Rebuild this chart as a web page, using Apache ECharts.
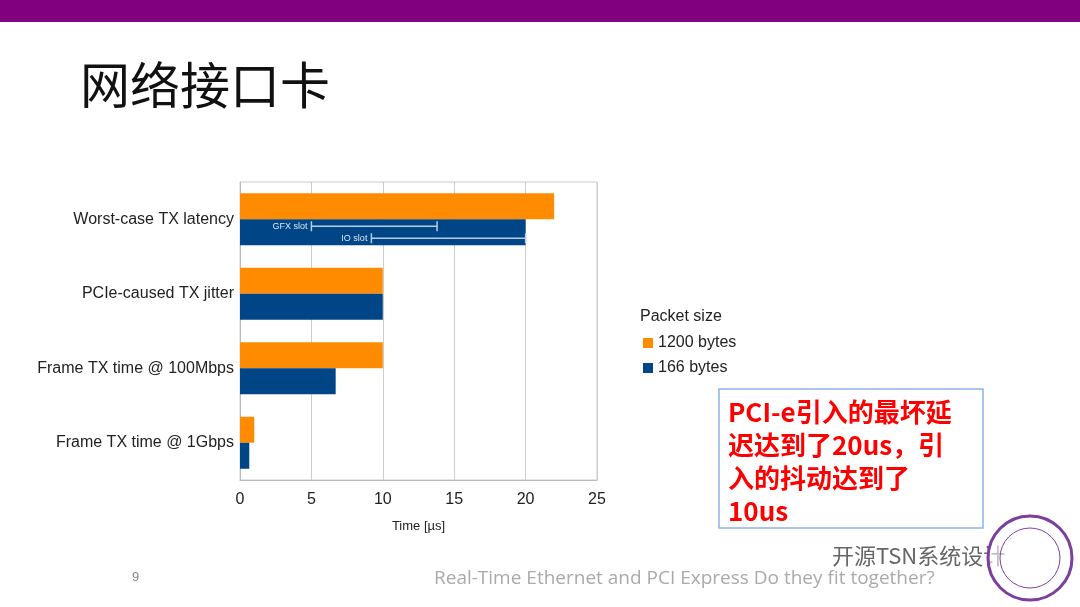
<!DOCTYPE html>
<html><head><meta charset="utf-8">
<script src="https://cdn.jsdelivr.net/npm/echarts@6/dist/echarts.min.js"></script>
<style>html,body{margin:0;padding:0;background:#fff}#c{width:1080px;height:607px}</style>
</head><body><div id="c"></div>
<script>
// 数据
const categories = ['Worst-case TX latency', 'PCIe-caused TX jitter', 'Frame TX time @ 100Mbps', 'Frame TX time @ 1Gbps'];
const bytes1200 = [22, 10, 10, 1.0];
const bytes166 = [20, 10, 6.7, 0.65];
const xTicks = [0, 5, 10, 15, 20, 25];
// 误差区间：[起点, 终点, 标签]
const slotRanges = [[5, 13.8, 'GFX slot'], [9.2, 20, 'IO slot']];

const chart = echarts.init(document.getElementById('c'));
const font = 'Liberation Sans, Arial, sans-serif';

chart.setOption({
    animation: false,
    grid: { left: 240, right: 483, top: 182, bottom: 127, show: true, borderColor: '#ccc', borderWidth: 1 },
    legend: {
        orient: 'vertical', left: 638, top: 330, itemGap: 9,
        itemWidth: 10, itemHeight: 10, icon: 'rect',
        textStyle: { fontFamily: font, fontSize: 16, color: '#222' },
        data: ['1200 bytes', '166 bytes']
    },
    xAxis: {
        type: 'value', min: 0, max: 25, interval: xTicks[1] - xTicks[0],
        name: 'Time [µs]', nameLocation: 'middle', nameGap: 40,
        nameTextStyle: { fontFamily: font, fontSize: 13, color: '#222' },
        axisLabel: { fontFamily: font, fontSize: 16, color: '#222', margin: 12 },
        axisLine: { show: true, lineStyle: { color: '#bbb' } },
        axisTick: { show: false },
        splitLine: { lineStyle: { color: '#ccc' } }
    },
    yAxis: {
        type: 'category', data: categories, inverse: true,
        axisLabel: { fontFamily: font, fontSize: 16, color: '#222', margin: 6 },
        axisLine: { lineStyle: { color: '#bbb' } },
        axisTick: { show: false }
    },
    series: [
        { name: '1200 bytes', type: 'bar', data: bytes1200, barWidth: 26, barGap: '0%',
          itemStyle: { color: '#ff8c00' } },
        { name: '166 bytes', type: 'bar', data: bytes166, barWidth: 26,
          itemStyle: { color: '#004586' } },
        {
            type: 'custom', name: 'slots', z: 10,
            data: slotRanges.map((r, i) => [r[0], r[1], i, r[2]]),
            renderItem: function (params, api) {
                const s = api.coord([api.value(0), 0]);
                const e = api.coord([api.value(1), 0]);
                const y = s[1] + 7 + api.value(2) * 12;
                const st = { stroke: '#b8cce4', lineWidth: 1.5 };
                return { type: 'group', children: [
                    { type: 'line', shape: { x1: s[0], y1: y, x2: e[0], y2: y }, style: st },
                    { type: 'line', shape: { x1: s[0], y1: y - 5, x2: s[0], y2: y + 5 }, style: st },
                    { type: 'line', shape: { x1: e[0], y1: y - 5, x2: e[0], y2: y + 5 }, style: st },
                    { type: 'text', style: { text: api.value(3), x: s[0] - 4, y: y, align: 'right',
                        verticalAlign: 'middle', fill: '#dce6f2', font: '9px ' + font } }
                ] };
            }
        }
    ],
    graphic: [
        { type: 'rect', shape: { x: 0, y: 0, width: 1080, height: 22 }, style: { fill: '#800080' } },
        { type: 'text', left: 80, top: 60, style: { text: '网络接口卡', font: '50px "Noto Sans CJK SC"', fill: '#111' } },
        { type: 'text', left: 640, top: 309, style: { text: 'Packet size', font: '16px ' + font, fill: '#222' } },
        { type: 'rect', shape: { x: 719, y: 389, width: 264, height: 139 }, style: { fill: '#fff', stroke: '#8db3e2', lineWidth: 1.5 } },
        { type: 'text', left: 728, top: 396, style: {
            text: 'PCI-e引入的最坏延\n迟达到了20us，引\n入的抖动达到了\n10us',
            font: 'bold 26px "Noto Sans CJK SC"', fill: '#ff0000', lineHeight: 33 } },
        { type: 'text', left: 132, top: 571, style: { text: '9', font: '13px ' + font, fill: '#888' } },
        { type: 'text', left: 434, top: 569, style: { text: 'Real-Time Ethernet and PCI Express Do they fit together?', font: '19px "Open Sans"', fill: '#aaa' } },
        { type: 'text', left: 832, top: 545, style: { text: '开源TSN系统设计', font: '22px "Noto Sans CJK SC"', fill: '#666' } },
        { type: 'circle', shape: { cx: 1030, cy: 558, r: 42 }, style: { fill: 'rgba(255,255,255,0.6)', stroke: '#7b3f9e', lineWidth: 3 } },
        { type: 'circle', shape: { cx: 1030, cy: 558, r: 30 }, style: { fill: 'none', stroke: '#7b3f9e', lineWidth: 1 } }
    ]
});
</script></body></html>
